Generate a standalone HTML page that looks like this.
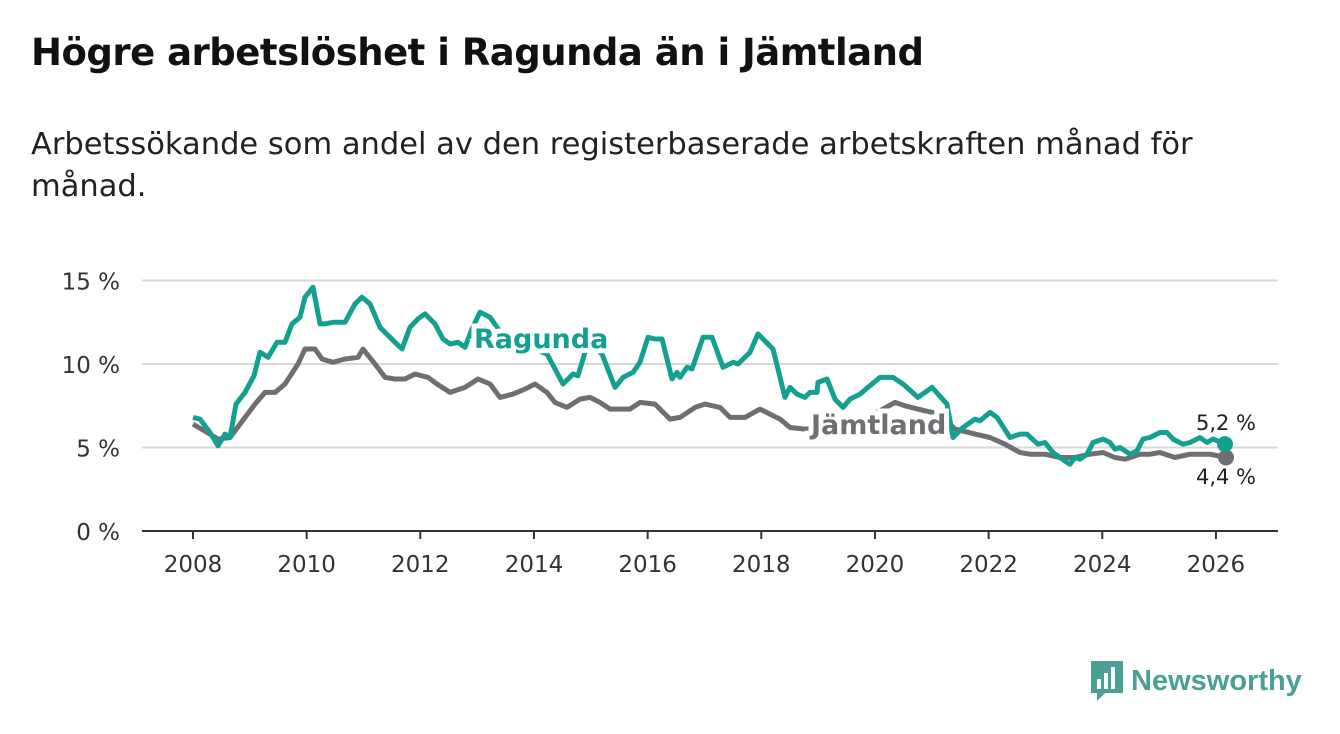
<!DOCTYPE html>
<html><head><meta charset="utf-8"><style>
body{margin:0;background:#fff;font-family:"Liberation Sans","DejaVu Sans",sans-serif;}
#wrap{position:relative;width:1340px;height:734px;overflow:hidden;}
h1{position:absolute;left:31px;top:31px;margin:0;font-size:37px;font-weight:bold;color:#111;font-family:"DejaVu Sans","Liberation Sans",sans-serif;letter-spacing:-0.5px}
p{position:absolute;left:31px;top:124px;margin:0;font-size:30.5px;line-height:42px;color:#222;width:1200px;font-family:"DejaVu Sans","Liberation Sans",sans-serif;}
</style></head><body><div id="wrap">
<h1>Högre arbetslöshet i Ragunda än i Jämtland</h1>
<p>Arbetssökande som andel av den registerbaserade arbetskraften månad för månad.</p>
<svg id="c" width="1340" height="734" style="position:absolute;left:0;top:0"></svg>
<div style="position:absolute;left:1089px;top:660px;height:42px;display:flex;align-items:center">
<svg width="36" height="44"><path d="M2 2h32v32H16l-8 8v-8H2z" fill="#4a9f96"/><rect x="8" y="20" width="4" height="10" fill="#fff"/><rect x="15" y="14" width="4" height="16" fill="#fff"/><rect x="22" y="8" width="4" height="22" fill="#fff"/></svg>
<span style="font-size:29px;font-weight:bold;color:#4a9f96;margin-left:6px">Newsworthy</span></div>
</div>
<script>
const yTicks=[0,5,10,15];
const xTicks=[2008,2010,2012,2014,2016,2018,2020,2022,2024,2026];
const ragX=[193,200,210,218,225,230,236,245,254,260,268,277,285,292,300,305,313,320,325,333,345,355,362,370,380,385,395,402,410,418,425,435,443,450,458,465,472,480,490,498,510,530,547,563,573,578,585,587,602,615,623,633,640,648,655,662,672,677,680,687,692,703,712,723,733,738,750,758,768,773,785,790,797,805,810,817,818,827,835,843,850,860,872,880,893,903,918,932,947,953,963,975,980,990,997,1010,1020,1027,1038,1045,1053,1067,1070,1075,1080,1087,1093,1103,1110,1115,1120,1130,1137,1143,1150,1160,1167,1173,1183,1190,1200,1207,1213,1225];
const ragV=[6.8,6.7,5.9,5.1,5.8,5.6,7.6,8.3,9.3,10.7,10.4,11.3,11.3,12.4,12.8,14.0,14.6,12.4,12.4,12.5,12.5,13.6,14.0,13.6,12.2,11.9,11.3,10.9,12.2,12.7,13.0,12.4,11.5,11.2,11.3,11.0,12.1,13.1,12.8,12.1,11.5,11.0,10.6,8.8,9.4,9.3,10.7,11.3,10.6,8.6,9.2,9.5,10.1,11.6,11.5,11.5,9.1,9.5,9.2,9.8,9.7,11.6,11.6,9.8,10.1,10.0,10.7,11.8,11.2,10.9,8.0,8.6,8.2,8.0,8.3,8.3,8.9,9.1,7.9,7.4,7.9,8.2,8.8,9.2,9.2,8.8,8.0,8.6,7.6,5.6,6.2,6.7,6.6,7.1,6.8,5.6,5.8,5.8,5.2,5.3,4.7,4.1,4.0,4.4,4.3,4.6,5.3,5.5,5.3,4.9,5.0,4.6,4.8,5.5,5.6,5.9,5.9,5.5,5.2,5.3,5.6,5.3,5.5,5.2];
const jamX=[193,210,218,230,240,255,265,275,285,298,305,315,322,333,345,358,363,375,385,395,405,415,428,437,450,465,478,490,500,513,525,535,547,555,567,580,590,600,610,630,640,655,670,680,695,705,720,730,745,760,770,780,790,805,830,860,880,895,905,925,940,955,975,990,1005,1020,1030,1045,1060,1075,1090,1103,1115,1125,1140,1150,1160,1175,1190,1210,1226];
const jamV=[6.4,5.8,5.5,5.6,6.4,7.6,8.3,8.3,8.8,10.0,10.9,10.9,10.3,10.1,10.3,10.4,10.9,10.0,9.2,9.1,9.1,9.4,9.2,8.8,8.3,8.6,9.1,8.8,8.0,8.2,8.5,8.8,8.3,7.7,7.4,7.9,8.0,7.7,7.3,7.3,7.7,7.6,6.7,6.8,7.4,7.6,7.4,6.8,6.8,7.3,7.0,6.7,6.2,6.1,6.2,6.6,7.2,7.7,7.5,7.2,7.0,6.1,5.8,5.6,5.2,4.7,4.6,4.6,4.4,4.4,4.6,4.7,4.4,4.3,4.6,4.6,4.7,4.4,4.6,4.6,4.4];
const ragT=ragX.map(p=>2008+(p-193)/56.83), jamT=jamX.map(p=>2008+(p-193)/56.83);
const sx=t=>193+(t-2008)*56.83, sy=v=>531-v*16.7;
const svg=document.getElementById('c'),NS='http://www.w3.org/2000/svg';
function mk(tag,a,txt){const e=document.createElementNS(NS,tag);for(const k in a)e.setAttribute(k,a[k]);if(txt!=null)e.textContent=txt;svg.appendChild(e);return e;}
yTicks.forEach(v=>{
 const l=mk('line',{x1:142,x2:1278,y1:sy(v),y2:sy(v),stroke:v?'#d8d8d8':'#333','stroke-width':2});
 
 
 const t=mk('text',{x:120,y:sy(v)+9,'text-anchor':'end','font-size':23,fill:'#333','font-family':'DejaVu Sans, Liberation Sans, sans-serif'},v+' %');
 
 
});
xTicks.forEach(y=>{
 const l=mk('line',{x1:sx(y),x2:sx(y),y1:531,y2:539,stroke:'#333','stroke-width':2});
 
 
 const t=mk('text',{x:sx(y),y:572,'text-anchor':'middle','font-size':23,fill:'#333','font-family':'DejaVu Sans, Liberation Sans, sans-serif'},y);
 
 
});
function line(T,V,col,name){
 const d=T.map((t,i)=>(i?'L':'M')+sx(t).toFixed(1)+' '+sy(V[i]).toFixed(1)).join('');
 const p=mk('path',{d,fill:'none',stroke:col,'stroke-width':5,'stroke-linejoin':'round'});
 
 
 const c=mk('circle',{cx:sx(T[T.length-1]),cy:sy(V[V.length-1]),r:8,fill:col});
 
 
}
line(jamT,jamV,'#6f6e73','jamtland-line');
line(ragT,ragV,'#14a091','ragunda-line');
const f='DejaVu Sans, Liberation Sans, sans-serif';
let t=mk('text',{x:474,y:348,'font-size':27,'font-weight':'bold',fill:'#14a091',stroke:'#fff','stroke-width':10,'paint-order':'stroke','font-family':f},'Ragunda');


t=mk('text',{x:811,y:434,'font-size':27,'font-weight':'bold',fill:'#6f6e73',stroke:'#fff','stroke-width':10,'paint-order':'stroke','font-family':f},'Jämtland');


t=mk('text',{x:1226,y:430,'text-anchor':'middle','font-size':21,fill:'#222','font-family':f},'5,2 %');


t=mk('text',{x:1226,y:484,'text-anchor':'middle','font-size':21,fill:'#222','font-family':f},'4,4 %');


</script></body></html>
